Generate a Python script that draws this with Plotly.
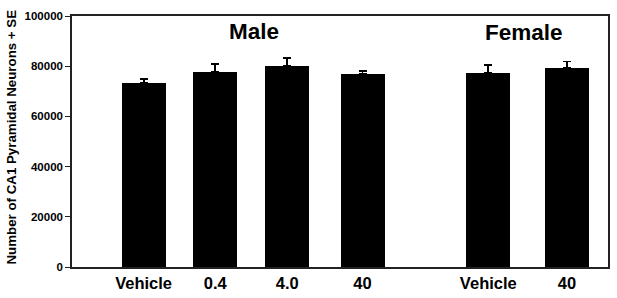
import plotly.graph_objects as go

groups = ["Male", "Male", "Male", "Male", "Female", "Female"]
doses = ["Vehicle", "0.4", "4.0", "40", "Vehicle", "40"]
neurons = [73200, 77600, 80200, 76900, 77200, 79400]
se = [1700, 3400, 3200, 1200, 3300, 2500]
yticks = [0, 20000, 40000, 60000, 80000, 100000]
panel_titles = ["Male", "Female"]
y_title = "Number of CA1 Pyramidal Neurons + SE"

# layout positions (x-axis units), kept separate from data
xpos = [71.6, 143.3, 215.3, 290.5, 416.3, 495.0]
title_x = [181.7, 451.6]
title_ypx = [31.7, 33.0]

W, H = 617, 298
L, R, T, B = 72, 9, 16, 31
plot_w = W - L - R
plot_h = H - T - B

fig = go.Figure()
fig.add_trace(go.Bar(
    x=xpos, y=neurons, width=44,
    marker=dict(color="black", line=dict(width=0)),
    error_y=dict(type="data", symmetric=False, array=se,
                 arrayminus=[0] * len(se), color="black",
                 thickness=1.8, width=4),
    showlegend=False, hoverinfo="skip",
))

fig.update_layout(
    width=W, height=H,
    margin=dict(l=L, r=R, t=T, b=B, autoexpand=False),
    paper_bgcolor="white", plot_bgcolor="white",
    font=dict(family="Liberation Sans, Arial, sans-serif", color="black"),
    bargap=0,
)
fig.update_xaxes(
    range=[0, plot_w], tickvals=xpos, ticktext=doses, automargin=False,
    tickfont=dict(size=16.5, family="Liberation Sans", color="black", weight="bold"),
    showline=True, linecolor="#222", linewidth=1.5, mirror=True,
    ticks="", showgrid=False, zeroline=False,
)
fig.update_yaxes(
    range=[0, 100000], tickvals=yticks, ticktext=[str(v) for v in yticks],
    automargin=False,
    tickfont=dict(size=11.5, family="Liberation Sans", color="black", weight="bold"),
    ticks="outside", ticklen=5, tickwidth=1.2, tickcolor="#222",
    showline=True, linecolor="#222", linewidth=1.5, mirror=True,
    showgrid=False, zeroline=False,
)
# y-axis title as rotated annotation for precise placement
fig.add_annotation(
    x=(11 - L) / plot_w, y=1 - (137.5 - T) / plot_h, xref="paper", yref="paper",
    text=y_title, textangle=-90, showarrow=False,
    font=dict(size=13.3, family="Liberation Sans", color="black", weight="bold"),
    xanchor="center", yanchor="middle",
)
for i, ttl in enumerate(panel_titles):
    fig.add_annotation(
        x=title_x[i], y=1 - (title_ypx[i] - T) / plot_h, xref="x", yref="paper",
        text=ttl, showarrow=False,
        font=dict(size=22.5, family="Liberation Sans", color="black", weight="bold"),
        yanchor="middle",
    )
fig.write_html("out.html", config={"displayModeBar": False},
               post_script="document.body.style.margin='0px';")
